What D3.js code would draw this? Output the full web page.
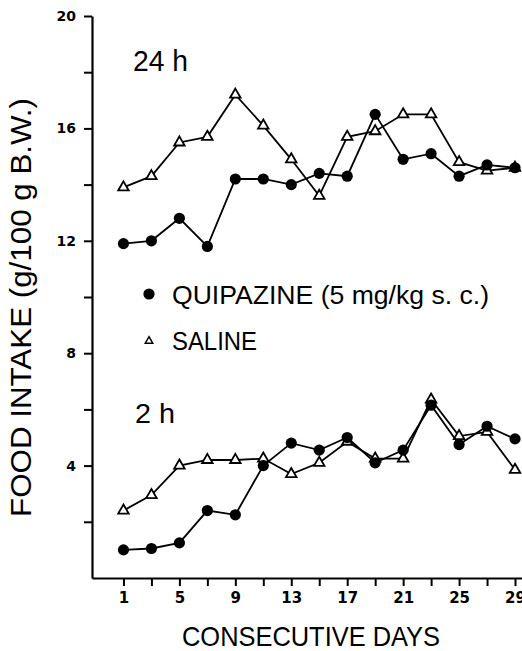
<!DOCTYPE html>
<html>
<head>
<meta charset="utf-8">
<script src="https://cdn.jsdelivr.net/npm/d3@7"></script>
<style>
  body { margin: 0; background: #fff; }
</style>
</head>
<body>
<script>
var w = 522;
var h = 651;

// data (odd days only)
var days = [1, 3, 5, 7, 9, 11, 13, 15, 17, 19, 21, 23, 25, 27, 29];
var quip24 = [11.9, 12.0, 12.8, 11.8, 14.2, 14.2, 14.0, 14.4, 14.3, 16.5, 14.9, 15.1, 14.3, 14.7, 14.6];
var sal24 = [13.9, 14.3, 15.5, 15.7, 17.2, 16.1, 14.9, 13.6, 15.7, 15.9, 16.5, 16.5, 14.8, 14.5, 14.6];
var quip2 = [1.0, 1.05, 1.25, 2.4, 2.25, 4.0, 4.8, 4.55, 5.0, 4.1, 4.55, 6.15, 4.75, 5.4, 4.95];
var sal2 = [2.4, 2.95, 4.0, 4.2, 4.2, 4.25, 3.7, 4.1, 4.85, 4.25, 4.25, 6.35, 5.05, 5.2, 3.85];

var xTicks = [1, 3, 5, 7, 9, 11, 13, 15, 17, 19, 21, 23, 25, 27, 29];
var xLabels = [1, 5, 9, 13, 17, 21, 25, 29];
var yTicks = [2, 4, 6, 8, 10, 12, 14, 16, 18, 20];
var yLabels = [4, 8, 12, 16, 20];

var xScale = d3.scaleLinear()
    .domain([-1.25, 29.5])
    .range([92, 522]);

var yScale = d3.scaleLinear()
    .domain([0, 20])
    .range([578, 16]);

var svg = d3.select("body")
    .append("svg")
    .attr("width", w)
    .attr("height", h);

svg.append("rect")
    .attr("width", w)
    .attr("height", h)
    .attr("fill", "#fff");

//Axes
var xAxis = d3.axisBottom(xScale)
    .tickValues(xTicks)
    .tickSizeInner(8)
    .tickSizeOuter(0)
    .tickPadding(6)
    .tickFormat(function(d) { return xLabels.indexOf(d) >= 0 ? d : ""; });

var yAxis = d3.axisLeft(yScale)
    .tickValues(yTicks)
    .tickSizeInner(8)
    .tickSizeOuter(0)
    .tickPadding(8)
    .tickFormat(function(d) { return yLabels.indexOf(d) >= 0 ? d : ""; });

var gx = svg.append("g")
    .attr("transform", "translate(0," + yScale(0) + ")")
    .call(xAxis);

var gy = svg.append("g")
    .attr("transform", "translate(" + xScale.range()[0] + ",0)")
    .call(yAxis);

[gx, gy].forEach(function(g) {
  g.select(".domain").attr("stroke", "#000").attr("stroke-width", 2.2);
  g.selectAll(".tick line").attr("stroke", "#000").attr("stroke-width", 2);
  g.selectAll(".tick text")
      .attr("fill", "#000")
      .attr("font-family", "DejaVu Sans")
      .attr("font-weight", "bold");
});
gx.selectAll(".tick text").attr("font-size", "15px");
gy.selectAll(".tick text").attr("font-size", "14px");

//Lines and markers
var line = d3.line()
    .x(function(d, i) { return xScale(days[i]); })
    .y(function(d) { return yScale(d); });

var tri = d3.symbol().type(d3.symbolTriangle).size(48);
var triSmall = d3.symbol().type(d3.symbolTriangle).size(24);

function drawSaline(vals) {
  svg.append("path")
      .attr("d", line(vals))
      .attr("fill", "none")
      .attr("stroke", "#000")
      .attr("stroke-width", 1.8);
  svg.append("g").selectAll("path")
      .data(vals)
      .enter()
      .append("path")
      .attr("d", tri)
      .attr("transform", function(d, i) {
        return "translate(" + xScale(days[i]) + "," + yScale(d) + ")";
      })
      .attr("fill", "#fff")
      .attr("stroke", "#000")
      .attr("stroke-width", 1.8);
}

function drawQuip(vals) {
  svg.append("path")
      .attr("d", line(vals))
      .attr("fill", "none")
      .attr("stroke", "#000")
      .attr("stroke-width", 1.8);
  svg.append("g").selectAll("circle")
      .data(vals)
      .enter()
      .append("circle")
      .attr("cx", function(d, i) { return xScale(days[i]); })
      .attr("cy", function(d) { return yScale(d); })
      .attr("r", 5.6)
      .attr("fill", "#000");
}

drawSaline(sal24);
drawQuip(quip24);
drawSaline(sal2);
drawQuip(quip2);

//Labels
function label(txt, x, y, size, len) {
  return svg.append("text")
      .text(txt)
      .attr("x", x)
      .attr("y", y)
      .attr("font-family", "Liberation Sans")
      .attr("font-size", size + "px")
      .attr("textLength", len)
      .attr("lengthAdjust", "spacingAndGlyphs")
      .attr("fill", "#000");
}

label("24 h", 133, 71, 29, 55);
label("2 h", 135, 423, 28, 40);
label("QUIPAZINE (5 mg/kg s. c.)", 172, 304, 26, 317);
label("SALINE", 172, 350, 26, 85);
label("CONSECUTIVE DAYS", 182, 646, 28, 258);
label("FOOD INTAKE (g/100 g B.W.)", 0, 0, 29, 419)
    .attr("transform", "translate(31,517) rotate(-90)");

//Legend markers
svg.append("circle")
    .attr("cx", 149)
    .attr("cy", 294)
    .attr("r", 5.6)
    .attr("fill", "#000");

svg.append("path")
    .attr("d", triSmall)
    .attr("transform", "translate(149,341)")
    .attr("fill", "#fff")
    .attr("stroke", "#000")
    .attr("stroke-width", 1.5);
</script>
</body>
</html>
